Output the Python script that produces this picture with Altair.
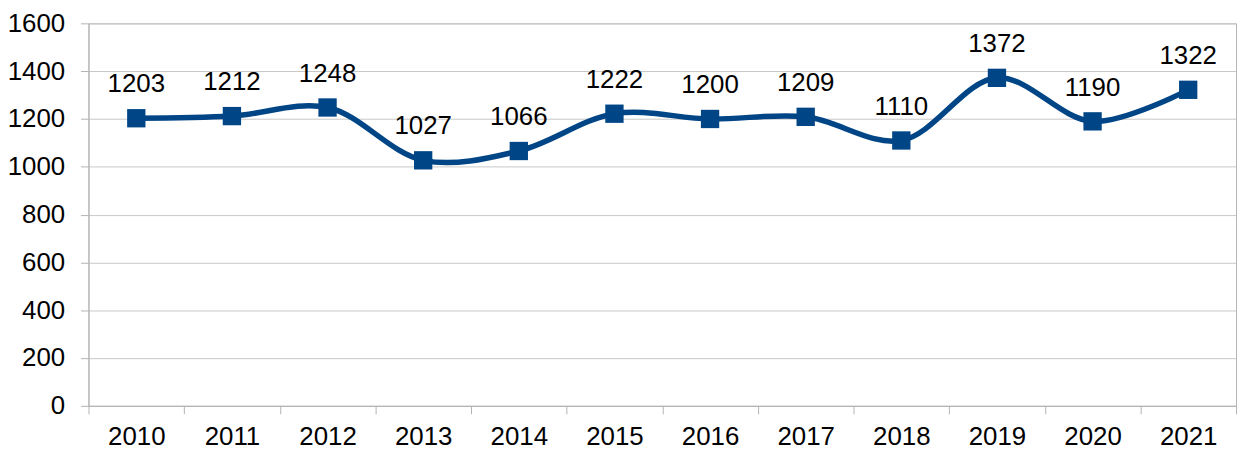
import altair as alt
import pandas as pd

years = ["2010", "2011", "2012", "2013", "2014", "2015", "2016", "2017", "2018", "2019", "2020", "2021"]
values = [1203, 1212, 1248, 1027, 1066, 1222, 1200, 1209, 1110, 1372, 1190, 1322]

df = pd.DataFrame({"year": years, "value": values})

COLOR = "#004586"
FONT = "Liberation Sans"

x = alt.X("year:N", sort=years, title=None,
          scale=alt.Scale(paddingInner=0, paddingOuter=0),
          axis=alt.Axis(labelAngle=0, tickBand="extent", labelFontSize=26, labelFont=FONT,
                        labelColor="black", domainColor="#b3b3b3", tickColor="#b3b3b3",
                        tickSize=8, labelPadding=10, grid=False))
y = alt.Y("value:Q", title=None,
          scale=alt.Scale(domain=[0, 1600], nice=False),
          axis=alt.Axis(values=list(range(0, 1601, 200)), format="d", labelFontSize=26, labelFont=FONT,
                        labelColor="black", domainColor="#b3b3b3", tickColor="#b3b3b3",
                        tickSize=8, labelPadding=16, gridColor="#c8c8c8", gridWidth=1))

base = alt.Chart(df)
line = base.mark_line(color=COLOR, strokeWidth=5.5, interpolate="catmull-rom").encode(x=x, y=y)
pts = base.mark_point(shape="square", filled=True, color=COLOR, size=340, opacity=1).encode(x=x, y=y)
txt = base.mark_text(dy=-26, baseline="alphabetic", fontSize=26, font=FONT, color="black").encode(
    x=x, y=y, text="value:Q")

chart = alt.layer(line, pts, txt).properties(
    width=1155, height=385,
    autosize=alt.AutoSizeParams(type="none"),
    padding={"left": 81, "top": 14, "right": 3, "bottom": 44},
).configure_view(stroke="#b3b3b3", strokeWidth=1)

chart.save("out.html", embed_options={"renderer": "svg", "actions": False})
